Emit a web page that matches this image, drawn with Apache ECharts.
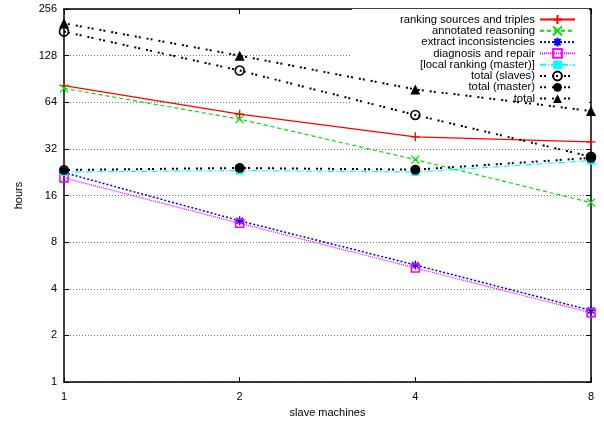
<!DOCTYPE html>
<html><head><meta charset="utf-8">
<script src="https://cdn.jsdelivr.net/npm/echarts@6/dist/echarts.min.js"></script>
<style>html,body{margin:0;padding:0;background:#fff}#c{width:604px;height:423px}</style>
</head><body><div id="c"></div>
<script>
const machines = [1, 2, 4, 8];
const yTicks = [1, 2, 4, 8, 16, 32, 64, 128, 256];
const rankingSources = [82, 53.6, 38.3, 35.5];
const annotatedReasoning = [78.7, 49.8, 27.3, 14.4];
const extractInconsistencies = [22.5, 11.0, 5.7, 2.9];
const diagnosisRepair = [20.8, 10.6, 5.45, 2.8];
const localRanking = [22.7, 23.2, 22.7, 26.9];
const totalSlaves = [183, 102.6, 53, 28.5];
const totalMaster = [23.4, 24.1, 23.5, 28];
const total = [207, 128, 77.5, 56.2];

const FONT = 'Liberation Sans';
const pts = arr => machines.map((m, i) => [m, arr[i]]);
const PLUS = 'path://M5,0V10M0,5H10';
const CROSS = 'path://M0,0L10,10M10,0L0,10';
const STAR = 'path://M5,0V10M0,5H10M1.5,1.5L8.5,8.5M8.5,1.5L1.5,8.5';

function ser(name, arr, color, lineType, lineWidth, symbol, size, strokeSym, filled) {
  const itemStyle = strokeSym
    ? { color: 'rgba(0,0,0,0)', borderColor: color, borderWidth: 1.3 }
    : (filled ? { color: color, borderWidth: 0 } : { color: 'rgba(0,0,0,0)', borderColor: color, borderWidth: 1.6 });
  return {
    name, type: 'line', data: pts(arr), symbol, symbolSize: size,
    showAllSymbol: true, animation: false,
    lineStyle: { color, type: lineType, width: lineWidth },
    itemStyle, emphasis: { disabled: true }
  };
}

const series = [
  ser('ranking sources and triples', rankingSources, '#ff0000', 'solid', 1.2, PLUS, 9, true),
  ser('annotated reasoning', annotatedReasoning, '#00e000', [4, 3], 1.2, CROSS, 8, true),
  ser('extract inconsistencies', extractInconsistencies, '#0000ff', [2, 2], 1.5, STAR, 9, true),
  ser('diagnosis and repair', diagnosisRepair, '#ff00ff', [1, 1], 1.2, 'rect', 8, false, false),
  ser('[local ranking (master)]', localRanking, '#00ffff', [6, 2, 1, 2], 1.2, 'rect', 8, false, true),
  ser('total (slaves)', totalSlaves, '#000000', [2, 2, 2, 6], 2, 'circle', 9, false, false),
  ser('total (master)', totalMaster, '#000000', [2, 2, 2, 6], 2, 'circle', 10, false, true),
  ser('total', total, '#000000', [2, 2, 2, 6], 2, 'triangle', 10, false, true)
];

const axisCommon = {
  type: 'log', logBase: 2,
  axisLine: { show: true, lineStyle: { color: '#000', width: 1.5 } },
  axisTick: { show: true, inside: true, length: 5, lineStyle: { color: '#000', width: 1 } },
  axisLabel: { color: '#000', fontSize: 11, fontFamily: FONT, formatter: v => String(Math.round(v)) }
};

const chart = echarts.init(document.getElementById('c'), null, { renderer: 'canvas' });
chart.setOption({
  backgroundColor: '#fff',
  animation: false,
  textStyle: { fontFamily: FONT },
  grid: { left: 64, right: 13, top: 9, bottom: 38, containLabel: false },
  legend: {
    orient: 'vertical', right: 15, top: 9, align: 'right', z: 1,
    backgroundColor: '#fff', padding: [5, 13, 6, 48],
    itemWidth: 35, itemHeight: 11, itemGap: 0.3,
    textStyle: { fontSize: 11.3, color: '#000', fontFamily: FONT, lineHeight: 11 },
    data: series.map(s => s.name)
  },
  xAxis: [
    Object.assign({}, axisCommon, {
      min: machines[0], max: machines[machines.length - 1], splitNumber: 3,
      name: 'slave machines', nameLocation: 'middle', nameGap: 22,
      nameTextStyle: { fontSize: 11, color: '#000', fontFamily: FONT },
      axisLabel: Object.assign({}, axisCommon.axisLabel, { margin: 9 }),
      splitLine: { show: false }
    }),
    Object.assign({}, axisCommon, {
      position: 'top', min: machines[0], max: machines[machines.length - 1], splitNumber: 3,
      axisLabel: { show: false }, splitLine: { show: false }
    })
  ],
  yAxis: [
    Object.assign({}, axisCommon, {
      min: yTicks[0], max: yTicks[yTicks.length - 1], splitNumber: 8,
      name: 'hours', nameLocation: 'middle', nameGap: 40, nameRotate: 90,
      nameTextStyle: { fontSize: 11, color: '#000', fontFamily: FONT },
      axisLabel: Object.assign({}, axisCommon.axisLabel, { margin: 7 }),
      splitLine: { show: true, lineStyle: { color: '#777', type: [1, 2], width: 1 } }
    }),
    Object.assign({}, axisCommon, {
      position: 'right', min: yTicks[0], max: yTicks[yTicks.length - 1], splitNumber: 8,
      axisLabel: { show: false }, splitLine: { show: false }
    })
  ],
  series
});
</script></body></html>
